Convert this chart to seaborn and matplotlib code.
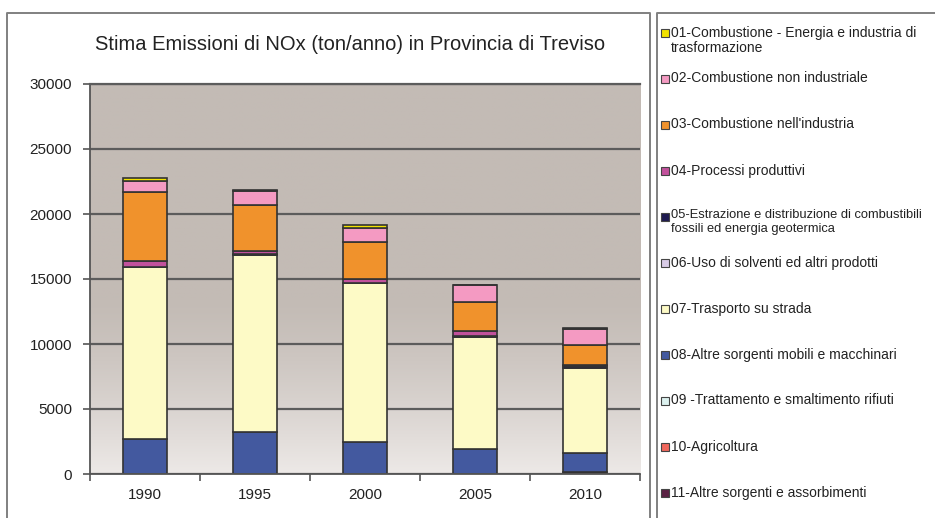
import numpy as np
import pandas as pd
import matplotlib
matplotlib.use("Agg")
import matplotlib.pyplot as plt
import seaborn as sns
from matplotlib.patches import Rectangle
from matplotlib.lines import Line2D

plt.rcParams['font.family'] = ['Liberation Sans', 'DejaVu Sans']

# ---------------- data ----------------
years = ['1990', '1995', '2000', '2005', '2010']
sectors = [
    "01-Combustione - Energia e industria di\ntrasformazione",
    "02-Combustione non industriale",
    "03-Combustione nell'industria",
    "04-Processi produttivi",
    "05-Estrazione e distribuzione di combustibili\nfossili ed energia geotermica",
    "06-Uso di solventi ed altri prodotti",
    "07-Trasporto su strada",
    "08-Altre sorgenti mobili e macchinari",
    "09 -Trattamento e smaltimento rifiuti",
    "10-Agricoltura",
    "11-Altre sorgenti e assorbimenti",
]
s01 = [230, 60, 230, 50, 60]
s02 = [840, 1080, 1080, 1310, 1230]
s03 = [5300, 3540, 2850, 2230, 1540]
s04 = [500, 230, 300, 380, 100]
s05 = [30, 100, 30, 60, 130]
s06 = [0, 0, 0, 0, 0]
s07 = [13200, 13610, 12230, 8620, 6530]
s08 = [2690, 3230, 2460, 1920, 1470]
s09 = [0, 0, 0, 0, 0]
s10 = [0, 0, 0, 0, 0]
s11 = [0, 0, 0, 0, 150]
colors = ['#f2e200', '#f49ac2', '#f0922c', '#c2519c', '#1e1a50', '#d8cbe6',
          '#fdfac6', '#43599f', '#dcf1ef', '#f0675c', '#5a2143']

series = [s01, s02, s03, s04, s05, s06, s07, s08, s09, s10, s11]
rows = []
for sec, vals in zip(sectors, series):
    for yr, v in zip(years, vals):
        rows.append({'anno': yr, 'settore': sec, 'ton': v})
df = pd.DataFrame(rows)

# ---------------- figure ----------------
W, H = 935, 518
fig = plt.figure(figsize=(W / 100, H / 100), dpi=100)
fig.patch.set_facecolor('white')
ax = fig.add_axes([90 / W, 1 - 474 / H, 550 / W, 390 / H])

# gradient background of plot area
top_c = np.array([195, 187, 181]) / 255
bot_c = np.array([237, 233, 231]) / 255
f = np.linspace(0, 1, 300)[:, None]           # 0 bottom -> 1 top
t = np.clip(1 - f / 0.45, 0, 1) ** 1.3
img = top_c[None, None, :] * (1 - t[..., None]) + bot_c[None, None, :] * t[..., None]
img = np.repeat(img, 2, axis=1)
ax.imshow(img, origin='lower', extent=[-0.5, 4.5, 0, 30000], aspect='auto', zorder=0)

sns.histplot(data=df, x='anno', hue='settore', weights='ton', multiple='stack',
             hue_order=sectors, palette=dict(zip(sectors, colors)),
             discrete=True, shrink=0.4, alpha=1, edgecolor='#333333',
             linewidth=1.2, legend=False, ax=ax)

ax.set_xlim(-0.5, 4.5)
ax.set_ylim(0, 30000)
ax.set_yticks(range(0, 30001, 5000))
ax.set_yticklabels([str(v) for v in range(0, 30001, 5000)])
ax.set_xticks(range(len(years)))
ax.set_xticklabels(years)
ax.set_xticks([i - 0.5 for i in range(len(years) + 1)], minor=True)
ax.set_xlabel('')
ax.set_ylabel('')
ax.set_axisbelow(True)
ax.yaxis.grid(True, color='#5c5c5c', linewidth=1.6)
ax.xaxis.grid(False)
ax.tick_params(axis='y', direction='out', length=5, width=1.2, color='#555555',
               labelsize=11, labelcolor='#222222', pad=8)
ax.tick_params(axis='x', which='major', length=0, labelsize=11, labelcolor='#222222', pad=10)
ax.tick_params(axis='x', which='minor', direction='out', length=5, width=1.2, color='#555555')
for s in ['left', 'bottom']:
    ax.spines[s].set_color('#555555')
    ax.spines[s].set_linewidth(1.3)
ax.spines['top'].set_color('#5c5c5c')
ax.spines['top'].set_linewidth(1.6)
ax.spines['right'].set_visible(False)

# title
fig.text(350 / W, 1 - 45 / H, 'Stima Emissioni di NOx (ton/anno) in Provincia di Treviso',
         ha='center', va='center', fontsize=14.5, color='#222222')

# frames
fc = '#808080'
fig.add_artist(Line2D([7 / W, 7 / W, 650 / W, 650 / W], [0, 1 - 13 / H, 1 - 13 / H, 0],
                      color=fc, linewidth=1.4, transform=fig.transFigure))
fig.add_artist(Line2D([657 / W, 657 / W, 1.0], [0, 1 - 13 / H, 1 - 13 / H],
                      color=fc, linewidth=1.4, transform=fig.transFigure))

# legend
for i, (lab, col) in enumerate(zip(sectors, colors)):
    cy = 33 + 46 * i
    fs = 9.3 if lab.startswith('05') else 10
    fig.add_artist(Rectangle((661 / W, 1 - (cy + 4) / H), 8 / W, 8 / H,
                             facecolor=col, edgecolor='#444444', linewidth=0.8,
                             transform=fig.transFigure))
    fig.text(671 / W, 1 - (cy - 7.5) / H, lab, ha='left', va='top', fontsize=fs,
             color='#222222', linespacing=1.1 * 10 / fs if fs != 10 else 1.1)

fig.savefig('out.png', dpi=100)
